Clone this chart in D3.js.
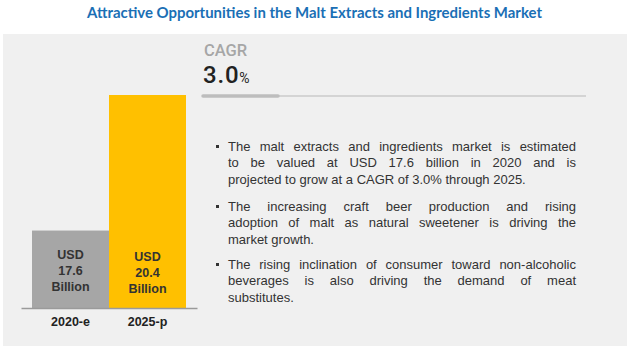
<!DOCTYPE html>
<html><head><meta charset="utf-8">
<script src="https://cdn.jsdelivr.net/npm/d3@7"></script>
<style>
html,body{margin:0;padding:0;background:#fff;}
svg{display:block;}
</style></head>
<body>
<svg id="chart" width="635" height="355"></svg>
<script>
const title = "Attractive Opportunities in the Malt Extracts and Ingredients Market";
const categories = ["2020-e", "2025-p"];
const values = [17.6, 20.4];
const barLabels = [["USD", "17.6", "Billion"], ["USD", "20.4", "Billion"]];
const barColors = ["#a6a6a6", "#ffc000"];
const cagrLabel = "CAGR";
const cagrValue = "3.0";
const paragraphs = [
  ["The malt extracts and ingredients market is estimated",
   "to be valued at USD 17.6 billion in 2020 and is",
   "projected to grow at a CAGR of 3.0% through 2025."],
  ["The increasing craft beer production and rising",
   "adoption of malt as natural sweetener is driving the",
   "market growth."],
  ["The rising inclination of consumer toward non-alcoholic",
   "beverages is also driving the demand of meat",
   "substitutes."]
];

const svg = d3.select("#chart");

// title
svg.append("text")
  .attr("x", 314.5).attr("y", 17.5)
  .attr("text-anchor", "middle")
  .attr("font-family", "Lato, 'Open Sans', sans-serif")
  .attr("font-weight", "bold")
  .attr("font-size", 14.5)
  .attr("fill", "#1a6fb5")
  .attr("textLength", 455).attr("lengthAdjust", "spacingAndGlyphs")
  .text(title);

// panel
svg.append("rect").attr("x", 3).attr("y", 34).attr("width", 624).attr("height", 312)
  .attr("fill", "#f0f0f0");

// scales
const x = d3.scaleBand().domain(categories).range([21, 197]).paddingInner(0).paddingOuter(0.143);
const y = d3.scaleLinear().domain([16, 20.4]).range([308, 95]);

svg.selectAll("rect.bar").data(values).join("rect")
  .attr("class", "bar")
  .attr("x", (d, i) => x(categories[i]))
  .attr("width", x.bandwidth())
  .attr("y", d => y(d))
  .attr("height", d => y.range()[0] - y(d))
  .attr("fill", (d, i) => barColors[i]);

// bar labels
barLabels.forEach((lines, i) => {
  const cx = x(categories[i]) + x.bandwidth() / 2;
  const baseY = i === 0 ? 259 : 261;
  lines.forEach((t, j) => {
    svg.append("text")
      .attr("x", cx).attr("y", baseY + j * 16)
      .attr("text-anchor", "middle")
      .attr("font-family", "'Liberation Sans Narrow', 'Liberation Sans', Arial, sans-serif")
      .attr("font-weight", "bold")
      .attr("font-size", 12.5)
      .attr("fill", "#333")
      .text(t);
  });
});

// axis
const ax = svg.append("g").attr("transform", `translate(0,${y.range()[0]})`)
  .call(d3.axisBottom(x).tickSize(0).tickPadding(9));
ax.select(".domain").attr("stroke", "#9a9a9a").attr("stroke-width", 1.5);
ax.selectAll(".tick text")
  .attr("font-family", "'Liberation Sans Narrow', 'Liberation Sans', Arial, sans-serif")
  .attr("font-weight", "bold")
  .attr("font-size", 12.5)
  .attr("fill", "#222");

// CAGR
svg.append("text").attr("x", 204).attr("y", 55.5)
  .attr("font-family", "Roboto, 'Liberation Sans', sans-serif")
  .attr("font-size", 16.5).attr("font-weight", 500)
  .attr("fill", "#a6a6a6").text(cagrLabel);
const cv = svg.append("text").attr("x", 203).attr("y", 82.5)
  .attr("font-family", "Roboto, 'Liberation Sans', sans-serif")
  .attr("fill", "#222");
cv.append("tspan").attr("font-size", 24).attr("font-weight", 500).attr("letter-spacing", 0.8).text(cagrValue);
cv.append("tspan").attr("font-size", 14).text("%");

svg.append("line").attr("x1", 203).attr("x2", 586).attr("y1", 96).attr("y2", 96)
  .attr("stroke", "#d4d4d4").attr("stroke-width", 2);
svg.append("line").attr("x1", 203).attr("x2", 278).attr("y1", 96).attr("y2", 96)
  .attr("stroke", "#bdbdbd").attr("stroke-width", 3.5).attr("stroke-linecap", "round");

// paragraphs (justified)
const textX = 228, textRight = 576;
const paraStart = [151, 211, 269];
const lineH = 16.3;
const fontFam = "'Liberation Sans', Arial, sans-serif";
const fs = 13;
paragraphs.forEach((lines, p) => {
  svg.append("rect").attr("x", 216).attr("y", paraStart[p] - 6).attr("width", 3).attr("height", 3)
    .attr("fill", "#333");
  lines.forEach((line, li) => {
    const yy = paraStart[p] + li * lineH;
    const words = line.split(" ");
    const last = li === lines.length - 1;
    if (last) {
      svg.append("text").attr("x", textX).attr("y", yy)
        .attr("font-family", fontFam).attr("font-size", fs).attr("fill", "#333")
        .text(line);
      return;
    }
    const nodes = words.map(w => svg.append("text").attr("y", yy)
      .attr("font-family", fontFam).attr("font-size", fs).attr("fill", "#333").text(w));
    const widths = nodes.map(n => n.node().getComputedTextLength());
    const total = d3.sum(widths);
    const gap = (textRight - textX - total) / (words.length - 1);
    let cx = textX;
    nodes.forEach((n, k) => { n.attr("x", cx); cx += widths[k] + gap; });
  });
});
</script>
</body></html>
